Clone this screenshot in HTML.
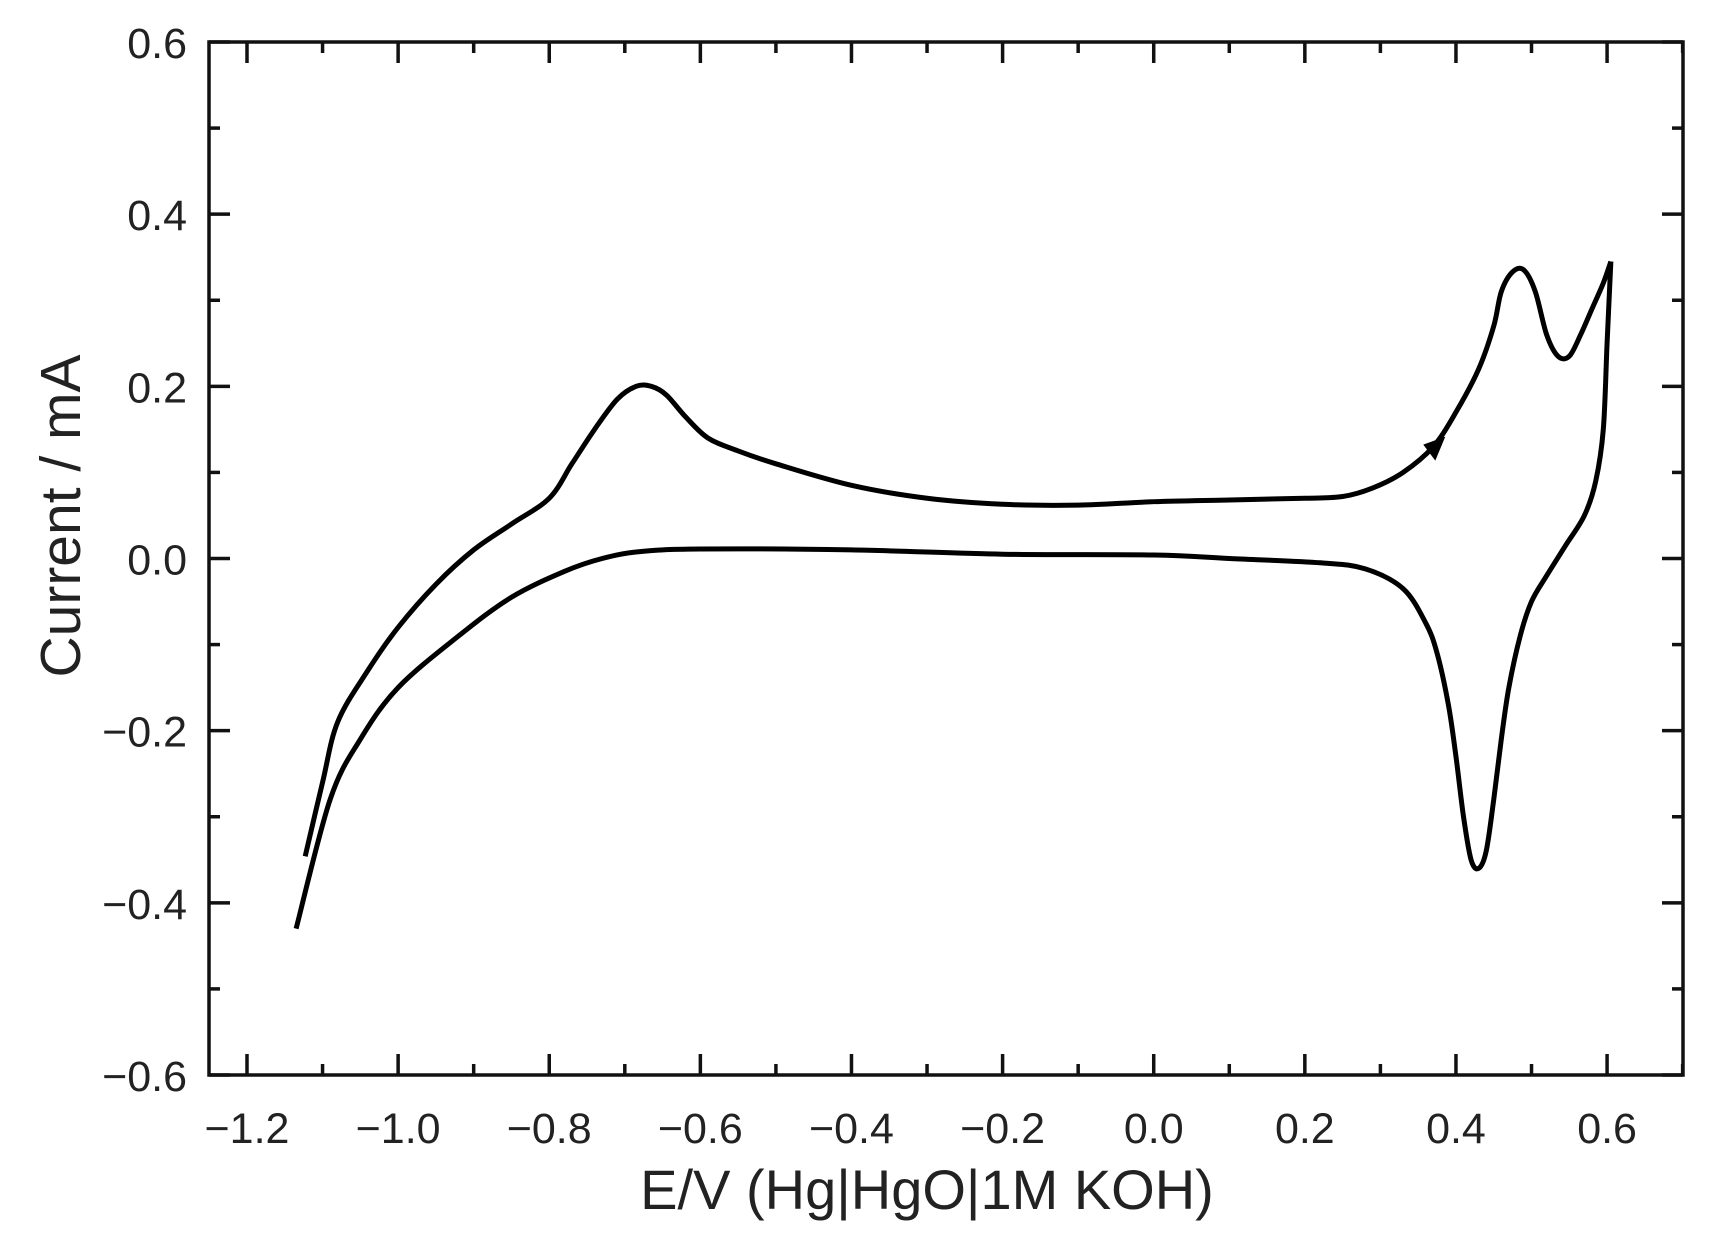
<!DOCTYPE html>
<html><head><meta charset="utf-8">
<style>
html,body{margin:0;padding:0;background:#fff;}
svg{display:block;font-family:"Liberation Sans",sans-serif;}
</style></head>
<body>
<svg id="chart" width="1711" height="1233" viewBox="0 0 1711 1233" xmlns="http://www.w3.org/2000/svg">
<rect x="209" y="42" width="1474" height="1033" fill="none" stroke="#111" stroke-width="3.5"/>
<g id="ticks"></g>
<g id="curve"></g>
<text x="927" y="1209" font-size="56" text-anchor="middle" fill="#222">E/V (Hg|HgO|1M KOH)</text>
<text x="0" y="0" font-size="57" text-anchor="middle" fill="#222" transform="translate(80,516) rotate(-90)">Current / mA</text>
</svg>
<script>
const xTicks = [-1.2,-1.0,-0.8,-0.6,-0.4,-0.2,0.0,0.2,0.4,0.6];
const xTickLabels = ["\u22121.2","\u22121.0","\u22120.8","\u22120.6","\u22120.4","\u22120.2","0.0","0.2","0.4","0.6"];
const yTicks = [0.6,0.4,0.2,0.0,-0.2,-0.4,-0.6];
const yTickLabels = ["0.6","0.4","0.2","0.0","\u22120.2","\u22120.4","\u22120.6"];
const forwardE = [-1.123,-1.10,-1.08,-1.04,-1.0,-0.95,-0.9,-0.85,-0.8,-0.77,-0.74,-0.71,-0.685,-0.665,-0.645,-0.62,-0.59,-0.55,-0.5,-0.4,-0.3,-0.2,-0.1,0.0,0.1,0.2,0.25,0.29,0.33,0.37,0.40,0.43,0.45,0.46,0.475,0.49,0.505,0.52,0.535,0.55,0.565,0.58,0.595,0.605];
const forwardI = [-0.346,-0.26,-0.19,-0.13,-0.08,-0.03,0.01,0.04,0.07,0.11,0.15,0.185,0.20,0.20,0.19,0.165,0.14,0.125,0.11,0.085,0.07,0.063,0.062,0.066,0.068,0.07,0.072,0.082,0.10,0.13,0.17,0.22,0.27,0.31,0.333,0.335,0.31,0.26,0.235,0.235,0.26,0.29,0.32,0.345];
const reverseE = [0.605,0.60,0.595,0.585,0.57,0.545,0.52,0.50,0.485,0.47,0.46,0.45,0.44,0.43,0.42,0.41,0.40,0.39,0.375,0.36,0.33,0.28,0.22,0.1,0.0,-0.2,-0.4,-0.6,-0.68,-0.73,-0.78,-0.85,-0.92,-1.0,-1.05,-1.09,-1.135];
const reverseI = [0.345,0.25,0.15,0.09,0.05,0.015,-0.02,-0.05,-0.09,-0.15,-0.21,-0.28,-0.34,-0.36,-0.35,-0.3,-0.23,-0.17,-0.11,-0.075,-0.035,-0.012,-0.005,0.0,0.004,0.005,0.01,0.011,0.008,0.0,-0.015,-0.045,-0.09,-0.15,-0.21,-0.28,-0.43];
const arrowE = 0.37, arrowI = 0.13;

const NS="http://www.w3.org/2000/svg";
const X = v => 247 + (v + 1.2) * 755.6;
const Y = v => 558.5 - v * 860.8;
const tg = document.getElementById('ticks');
const svg = document.getElementById('chart');
function line(x1,y1,x2,y2,w){const l=document.createElementNS(NS,'line');l.setAttribute('x1',x1);l.setAttribute('y1',y1);l.setAttribute('x2',x2);l.setAttribute('y2',y2);l.setAttribute('stroke','#111');l.setAttribute('stroke-width',w);return l;}
xTicks.forEach((v,i)=>{
  const x=X(v);
  const t1=line(x,1075,x,1054,3.5);
  
  
  tg.appendChild(t1);
  const t2=line(x,42,x,63,3.5);
  
  
  tg.appendChild(t2);
  const xm=X(v+0.1);
  if(xm<1683){
    const m1=line(xm,1075,xm,1064,3.5);
    
    
    tg.appendChild(m1);
    const m2=line(xm,42,xm,53,3.5);
    
    
    tg.appendChild(m2);
  }
  const tx=document.createElementNS(NS,'text');
  tx.setAttribute('x',x);tx.setAttribute('y',1143);tx.setAttribute('font-size','43');tx.setAttribute('text-anchor','middle');tx.setAttribute('fill','#222');
  tx.textContent=xTickLabels[i];
  
  
  svg.appendChild(tx);
});
yTicks.forEach((v,i)=>{
  const y=Y(v);
  const t1=line(209,y,230,y,3.5);
  
  
  tg.appendChild(t1);
  const t2=line(1683,y,1662,y,3.5);
  
  
  tg.appendChild(t2);
  if(v>-0.6){
    const ym=Y(v-0.1);
    const m1=line(209,ym,220,ym,3.5);
    
    
    tg.appendChild(m1);
    const m2=line(1683,ym,1672,ym,3.5);
    
    
    tg.appendChild(m2);
  }
  const tx=document.createElementNS(NS,'text');
  tx.setAttribute('x',187);tx.setAttribute('y',y+16);tx.setAttribute('font-size','43');tx.setAttribute('text-anchor','end');tx.setAttribute('fill','#222');
  tx.textContent=yTickLabels[i];
  
  
  svg.appendChild(tx);
});
function smooth(pts){
  let d='M'+pts[0][0]+','+pts[0][1];
  for(let i=0;i<pts.length-1;i++){
    const p0=pts[i-1]||pts[i],p1=pts[i],p2=pts[i+1],p3=pts[i+2]||p2;
    const c1=[p1[0]+(p2[0]-p0[0])/6,p1[1]+(p2[1]-p0[1])/6];
    const c2=[p2[0]-(p3[0]-p1[0])/6,p2[1]-(p3[1]-p1[1])/6];
    d+=' C'+c1[0]+','+c1[1]+' '+c2[0]+','+c2[1]+' '+p2[0]+','+p2[1];
  }
  return d;
}
const cg=document.getElementById('curve');
const fPts=forwardE.map((e,i)=>[X(e),Y(forwardI[i])]);
const rPts=reverseE.map((e,i)=>[X(e),Y(reverseI[i])]);
const p1=document.createElementNS(NS,'path');
p1.setAttribute('d',smooth(fPts));p1.setAttribute('fill','none');p1.setAttribute('stroke','#000');p1.setAttribute('stroke-width','5');p1.setAttribute('stroke-linejoin','round');


cg.appendChild(p1);
const p2=document.createElementNS(NS,'path');
p2.setAttribute('d',smooth(rPts));p2.setAttribute('fill','none');p2.setAttribute('stroke','#000');p2.setAttribute('stroke-width','5');p2.setAttribute('stroke-linejoin','round');


cg.appendChild(p2);
const ax=X(arrowE), ay=Y(arrowI);
const arr=document.createElementNS(NS,'polygon');
arr.setAttribute('points',`${ax+12},${ay-10} ${ax-10},${ay-2} ${ax+2},${ay+14}`);
arr.setAttribute('fill','#000');


cg.appendChild(arr);
</script>
</body></html>
